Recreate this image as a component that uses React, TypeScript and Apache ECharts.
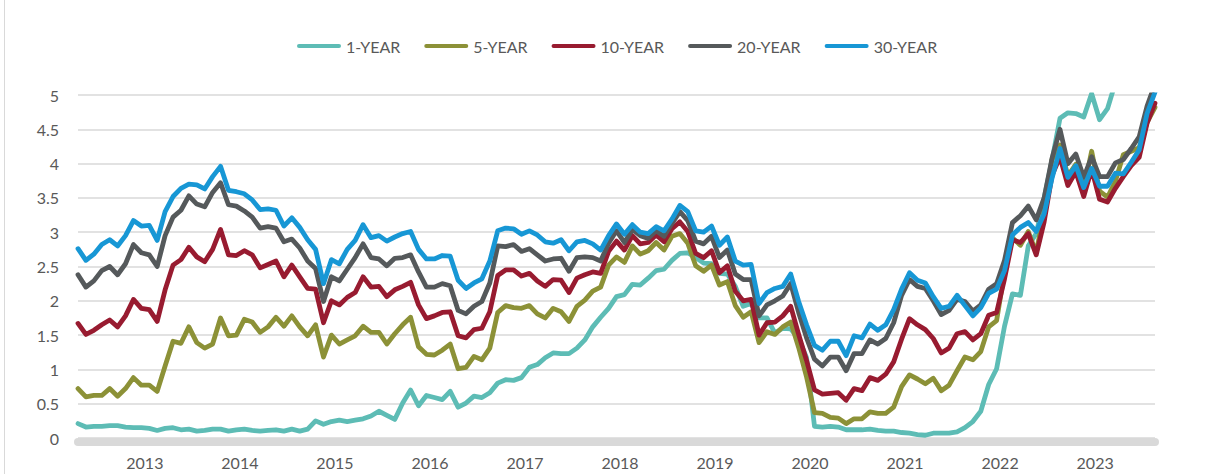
import React, { useEffect, useRef } from "react";
import * as echarts from "echarts";

// Month-end observations, Jun 2012 .. Oct 2023
const months: string[] = [];
for (let y = 2012; y <= 2023; y++) {
  for (let m = 1; m <= 12; m++) {
    if (y === 2012 && m < 6) continue;
    if (y === 2023 && m > 10) continue;
    months.push(`${y}-${String(m).padStart(2, "0")}`);
  }
}

const seriesNames = ["1-YEAR", "5-YEAR", "10-YEAR", "20-YEAR", "30-YEAR"];
const seriesColors = ["#5DBCB5", "#8C9137", "#981B30", "#55595B", "#1797D5"];

const y1 = [
  0.21, 0.16, 0.17, 0.17, 0.18, 0.18, 0.16,
  0.15, 0.15, 0.14, 0.11, 0.14, 0.15, 0.12, 0.13, 0.10, 0.11, 0.13, 0.13,
  0.10, 0.12, 0.13, 0.11, 0.10, 0.11, 0.12, 0.10, 0.13, 0.10, 0.13, 0.25,
  0.20, 0.24, 0.26, 0.24, 0.26, 0.28, 0.32, 0.39, 0.33, 0.27, 0.51, 0.70,
  0.47, 0.62, 0.59, 0.56, 0.68, 0.45, 0.51, 0.61, 0.59, 0.66, 0.80, 0.85,
  0.84, 0.88, 1.03, 1.07, 1.17, 1.24, 1.23, 1.23, 1.31, 1.43, 1.62, 1.76,
  1.89, 2.06, 2.09, 2.24, 2.23, 2.33, 2.44, 2.46, 2.59, 2.69, 2.70, 2.63,
  2.55, 2.54, 2.40, 2.39, 2.21, 1.92, 1.96, 1.75, 1.75, 1.53, 1.60, 1.59,
  1.45, 1.17, 0.17, 0.16, 0.17, 0.16, 0.12, 0.12, 0.12, 0.13, 0.11, 0.10,
  0.10, 0.08, 0.07, 0.05, 0.04, 0.07, 0.07, 0.07, 0.09, 0.15, 0.24, 0.39,
  0.78, 1.01, 1.63, 2.10, 2.08, 2.80, 2.98, 3.50, 4.05, 4.66, 4.74, 4.73,
  4.68, 5.02, 4.64, 4.80, 5.18, 5.40, 5.37, 5.37, 5.46, 5.44,
];

const y5 = [
  0.72, 0.60, 0.62, 0.62, 0.72, 0.61, 0.72,
  0.88, 0.77, 0.77, 0.68, 1.05, 1.41, 1.38, 1.62, 1.39, 1.31, 1.37, 1.75,
  1.49, 1.50, 1.73, 1.69, 1.54, 1.62, 1.76, 1.63, 1.78, 1.62, 1.49, 1.65,
  1.18, 1.50, 1.37, 1.43, 1.49, 1.63, 1.54, 1.54, 1.37, 1.52, 1.65, 1.76,
  1.33, 1.22, 1.21, 1.28, 1.37, 1.01, 1.03, 1.19, 1.14, 1.31, 1.83, 1.93,
  1.90, 1.89, 1.93, 1.81, 1.75, 1.89, 1.84, 1.70, 1.92, 2.01, 2.14, 2.20,
  2.52, 2.64, 2.56, 2.80, 2.68, 2.73, 2.85, 2.74, 2.94, 2.98, 2.84, 2.51,
  2.43, 2.52, 2.23, 2.28, 1.93, 1.76, 1.84, 1.39, 1.55, 1.51, 1.62, 1.69,
  1.32, 0.89, 0.37, 0.36, 0.30, 0.29, 0.21, 0.28, 0.28, 0.38, 0.36, 0.36,
  0.45, 0.75, 0.92, 0.86, 0.79, 0.87, 0.69, 0.77, 0.98, 1.18, 1.14, 1.26,
  1.62, 1.71, 2.42, 2.92, 2.81, 3.01, 2.70, 3.30, 4.06, 4.27, 3.82, 3.99,
  3.63, 4.18, 3.60, 3.51, 3.74, 4.13, 4.18, 4.23, 4.60, 4.82,
];

const y10 = [
  1.67, 1.51, 1.57, 1.65, 1.72, 1.62, 1.78,
  2.02, 1.89, 1.87, 1.70, 2.16, 2.52, 2.60, 2.78, 2.64, 2.57, 2.75, 3.04,
  2.67, 2.66, 2.73, 2.67, 2.48, 2.53, 2.58, 2.35, 2.52, 2.35, 2.18, 2.17,
  1.68, 2.00, 1.94, 2.05, 2.12, 2.35, 2.20, 2.21, 2.06, 2.16, 2.21, 2.27,
  1.94, 1.74, 1.78, 1.83, 1.84, 1.49, 1.46, 1.58, 1.60, 1.84, 2.37, 2.45,
  2.45, 2.36, 2.40, 2.29, 2.21, 2.31, 2.30, 2.12, 2.33, 2.38, 2.42, 2.40,
  2.72, 2.87, 2.74, 2.95, 2.83, 2.85, 2.96, 2.86, 3.05, 3.15, 3.01, 2.69,
  2.63, 2.73, 2.41, 2.51, 2.14, 2.00, 2.02, 1.50, 1.68, 1.69, 1.78, 1.92,
  1.51, 1.13, 0.70, 0.64, 0.65, 0.66, 0.55, 0.72, 0.69, 0.88, 0.84, 0.93,
  1.11, 1.44, 1.74, 1.65, 1.58, 1.45, 1.24, 1.31, 1.52, 1.55, 1.43, 1.52,
  1.79, 1.83, 2.32, 2.89, 2.85, 2.98, 2.67, 3.15, 3.83, 4.10, 3.68, 3.88,
  3.52, 3.92, 3.48, 3.44, 3.64, 3.81, 3.97, 4.09, 4.59, 4.88,
];

const y20 = [
  2.38, 2.20, 2.29, 2.44, 2.50, 2.38, 2.54,
  2.82, 2.70, 2.67, 2.50, 2.95, 3.22, 3.32, 3.53, 3.41, 3.37, 3.58, 3.72,
  3.40, 3.38, 3.31, 3.22, 3.06, 3.08, 3.06, 2.86, 2.90, 2.77, 2.58, 2.47,
  1.99, 2.35, 2.29, 2.46, 2.63, 2.83, 2.63, 2.61, 2.51, 2.62, 2.63, 2.67,
  2.42, 2.20, 2.20, 2.25, 2.22, 1.86, 1.81, 1.92, 1.99, 2.26, 2.80, 2.79,
  2.82, 2.72, 2.76, 2.67, 2.58, 2.61, 2.62, 2.43, 2.63, 2.64, 2.63, 2.58,
  2.84, 3.02, 2.85, 3.04, 2.95, 2.91, 3.02, 2.94, 3.13, 3.30, 3.17, 2.87,
  2.83, 2.94, 2.63, 2.74, 2.39, 2.31, 2.31, 1.78, 1.94, 2.00, 2.07, 2.25,
  1.83, 1.46, 1.15, 1.05, 1.18, 1.18, 0.98, 1.23, 1.23, 1.43, 1.37, 1.45,
  1.68, 2.08, 2.31, 2.21, 2.18, 2.00, 1.80, 1.86, 2.02, 1.99, 1.85, 1.94,
  2.17, 2.25, 2.59, 3.14, 3.24, 3.38, 3.18, 3.50, 4.08, 4.50, 4.00, 4.14,
  3.80, 4.10, 3.81, 3.81, 4.01, 4.06, 4.22, 4.39, 4.84, 5.16,
];

const y30 = [
  2.76, 2.59, 2.68, 2.82, 2.89, 2.80, 2.95,
  3.17, 3.09, 3.10, 2.88, 3.30, 3.52, 3.64, 3.70, 3.69, 3.63, 3.81, 3.96,
  3.61, 3.59, 3.56, 3.47, 3.33, 3.34, 3.32, 3.09, 3.21, 3.07, 2.89, 2.75,
  2.25, 2.60, 2.54, 2.75, 2.88, 3.11, 2.92, 2.95, 2.87, 2.93, 2.98, 3.01,
  2.75, 2.61, 2.61, 2.66, 2.65, 2.30, 2.18, 2.26, 2.32, 2.58, 3.02, 3.06,
  3.05, 2.97, 3.02, 2.96, 2.86, 2.84, 2.89, 2.73, 2.86, 2.88, 2.83, 2.74,
  2.95, 3.12, 2.97, 3.11, 3.00, 2.98, 3.08, 3.02, 3.19, 3.39, 3.30, 3.02,
  3.00, 3.09, 2.81, 2.93, 2.58, 2.52, 2.53, 1.96, 2.12, 2.18, 2.21, 2.39,
  1.99, 1.65, 1.35, 1.28, 1.41, 1.41, 1.20, 1.49, 1.46, 1.66, 1.57, 1.65,
  1.87, 2.17, 2.41, 2.30, 2.26, 2.06, 1.89, 1.92, 2.08, 1.93, 1.78, 1.90,
  2.11, 2.17, 2.44, 2.96, 3.07, 3.14, 3.01, 3.27, 3.79, 4.22, 3.80, 3.97,
  3.65, 3.93, 3.67, 3.67, 3.86, 3.85, 4.02, 4.20, 4.73, 5.04,
];

const seriesData = [y1, y5, y10, y20, y30];

const FONT = "Lato, 'Open Sans', sans-serif";
const TEXT = "#595959";

export default function App() {
  const ref = useRef<HTMLDivElement>(null);

  useEffect(() => {
    document.body.style.margin = "0";
    if (!ref.current) return;
    const chart = echarts.init(ref.current, undefined, { renderer: "svg" });
    chart.setOption({
      animation: false,
      backgroundColor: "#ffffff",
      textStyle: { fontFamily: FONT },
      legend: {
        left: 292,
        top: 33,
        icon: "path://M2,0 L42,0 A2,2 0 0 1 42,4 L2,4 A2,2 0 0 1 2,0 Z",
        itemWidth: 44,
        itemHeight: 5,
        itemGap: 24,
        textStyle: { fontSize: 16, color: TEXT, fontFamily: FONT },
        data: seriesNames,
      },
      grid: { left: 78, right: 57, top: 95, bottom: 36, containLabel: false },
      xAxis: {
        type: "category",
        data: months,
        boundaryGap: false,
        offset: 4,
        axisLine: { onZero: false, lineStyle: { color: "#d9d9d9", width: 8 } },
        axisTick: { show: false },
        splitLine: { show: false },
        axisLabel: {
          interval: (idx: number) => idx >= 8 && (idx - 8) % 12 === 0,
          formatter: (v: string) => v.slice(0, 4),
          fontSize: 16,
          color: TEXT,
          fontFamily: FONT,
          margin: 12,
          padding: [0, 0, 0, 7],
        },
      },
      yAxis: {
        type: "value",
        min: 0,
        max: 5,
        interval: 0.5,
        axisLine: { show: false },
        axisTick: { show: false },
        splitLine: { lineStyle: { color: "#d9d9d9", width: 1.5 } },
        axisLabel: { fontSize: 16, color: TEXT, fontFamily: FONT, margin: 19 },
      },
      graphic: [
        {
          type: "line",
          shape: { x1: 4.5, y1: 0, x2: 4.5, y2: 474 },
          style: { stroke: "#d9d9d9", lineWidth: 1 },
          silent: true,
        },
      ],
      series: seriesNames.map((name, i) => ({
        name,
        type: "line",
        data: seriesData[i],
        showSymbol: false,
        symbol: "none",
        clip: true,
        color: seriesColors[i],
        lineStyle: { width: 4.8, color: seriesColors[i], cap: "round", join: "round" },
        emphasis: { disabled: true },
      })),
    });
    return () => chart.dispose();
  }, []);

  return <div ref={ref} style={{ width: 1212, height: 474 }} />;
}
